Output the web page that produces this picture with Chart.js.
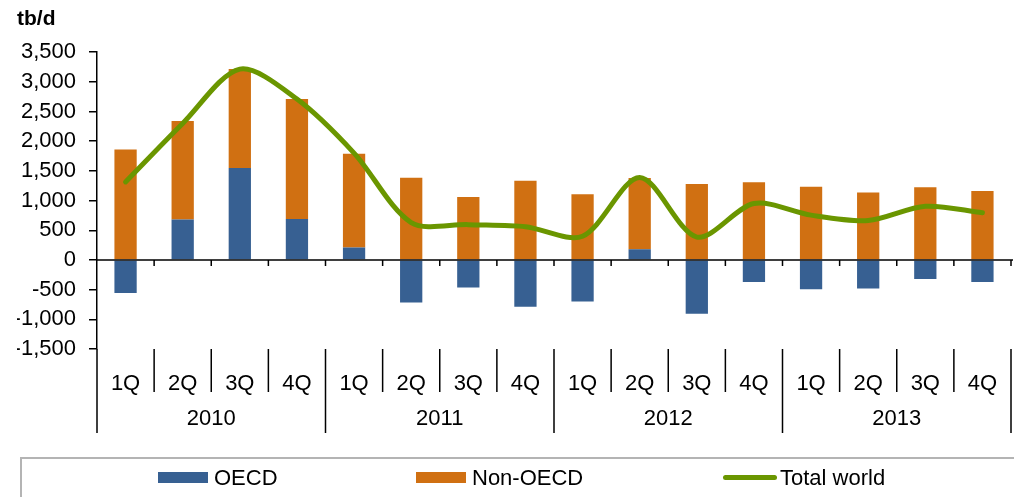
<!doctype html>
<html lang="en">
<head>
  <meta charset="utf-8">
  <title>tb/d OECD / Non-OECD</title>
  <script src="https://cdn.jsdelivr.net/npm/chart.js"></script>
  <style>
    body { margin: 0; background: #fff; font-family: "Liberation Sans", Arial, sans-serif; }
    #wrap { position: relative; width: 1014px; height: 497px; overflow: hidden; }
    #legend_box { position: absolute; left: 20px; top: 457px; width: 1100px; height: 80px; border: 2px solid #b4b4b4; box-sizing: border-box; }
    .lg { position: absolute; top: 466px; font-size: 22px; color: #000; line-height: 24px; white-space: nowrap; }
    .sw { display: inline-block; width: 50px; height: 11px; vertical-align: middle; margin-right: 6px; position: relative; top: -2px; }
    .sw.line { height: 5px; border-radius: 3px; width: 54px; margin-right: 3px; }
  </style>
</head>
<body>
  <div id="wrap">
    <canvas id="chart_canvas" width="1014" height="497"></canvas>
    <div id="legend_box"></div>
    <div id="legend_items"></div>
  </div>

  <script type="text/javascript">

    const quarters = ['1Q', '2Q', '3Q', '4Q', '1Q', '2Q', '3Q', '4Q', '1Q', '2Q', '3Q', '4Q', '1Q', '2Q', '3Q', '4Q'];
    const years = ['2010', '2011', '2012', '2013'];

    const oecd = [-555, 680, 1550, 690, 210, -715, -465, -790, -700, 180, -905, -370, -495, -480, -320, -370];
    const non_oecd = [1860, 1660, 1665, 2020, 1580, 1385, 1060, 1335, 1105, 1200, 1280, 1310, 1235, 1135, 1225, 1160];
    const total_world = [1315, 2300, 3215, 2710, 1800, 630, 595, 560, 400, 1390, 385, 950, 755, 665, 905, 795];

    const y_ticks = [-1500, -1000, -500, 0, 500, 1000, 1500, 2000, 2500, 3000, 3500];

    const col_oecd = '#376092';
    const col_non_oecd = '#d07012';
    const col_total = '#6a9600';
    const font_family = '"Liberation Sans", Arial, sans-serif';

    // zero line, quarter / year separators and year labels
    const axis_decor = {
      id: 'axis_decor',
      afterDraw(chart) {
        const ctx = chart.ctx;
        const xs = chart.scales.x;
        const ys = chart.scales.y;
        const area = chart.chartArea;
        const n = quarters.length;
        const cw = (area.right - area.left) / n;
        const y0 = ys.getPixelForValue(0);
        ctx.save();
        ctx.strokeStyle = '#000';
        ctx.lineWidth = 1.5;
        ctx.beginPath();
        ctx.moveTo(area.left, y0);
        ctx.lineTo(area.right + 2, y0);
        for (let i = 1; i <= n; i++) {
          const x = area.left + i * cw;
          ctx.moveTo(x, y0);
          ctx.lineTo(x, y0 + 6);
        }
        for (let i = 0; i <= n; i++) {
          const x = area.left + i * cw;
          ctx.moveTo(x, area.bottom);
          ctx.lineTo(x, i % 4 === 0 ? area.bottom + 84 : area.bottom + 43);
        }
        ctx.stroke();
        ctx.fillStyle = '#000';
        ctx.font = '22px ' + font_family;
        ctx.textAlign = 'center';
        ctx.textBaseline = 'middle';
        years.forEach((yr, k) => {
          const xc = (xs.getPixelForValue(k * 4 + 1) + xs.getPixelForValue(k * 4 + 2)) / 2;
          ctx.fillText(yr, xc, area.bottom + 70);
        });
        ctx.restore();
      }
    };

    const chart = new Chart(document.getElementById('chart_canvas'), {
      type: 'bar',
      data: {
        labels: quarters,
        datasets: [
          { type: 'line', label: 'Total world', data: total_world, borderColor: col_total, backgroundColor: col_total, borderWidth: 5, pointRadius: 0, tension: 0.3, borderCapStyle: 'round', order: 0 },
          { label: 'OECD', data: oecd, backgroundColor: col_oecd, stack: 's', order: 1 },
          { label: 'Non-OECD', data: non_oecd, backgroundColor: col_non_oecd, stack: 's', order: 1 }
        ]
      },
      options: {
        responsive: false,
        animation: false,
        devicePixelRatio: 1,
        layout: { padding: { left: 17, right: 3, top: 0, bottom: 40 } },
        datasets: { bar: { categoryPercentage: 1, barPercentage: 0.39 } },
        plugins: {
          legend: { display: false },
          tooltip: { enabled: false },
          title: { display: true, text: 'tb/d', align: 'start', color: '#000', font: { family: font_family, size: 21, weight: 'bold' }, padding: { top: 7, bottom: 20 } }
        },
        scales: {
          x: {
            stacked: true,
            grid: { display: false },
            border: { display: false },
            ticks: { color: '#000', font: { family: font_family, size: 22 }, padding: 14, maxRotation: 0, autoSkip: false },
            afterFit: (s) => { s.height = 108; }
          },
          y: {
            stacked: true,
            min: -1500, max: 3500,
            afterBuildTicks: (s) => { s.ticks = y_ticks.map(v => ({ value: v })); },
            grid: { drawOnChartArea: false, tickLength: 8, color: '#000', lineWidth: 1.5 },
            border: { display: true, color: '#000', width: 1.5 },
            ticks: { color: '#000', font: { family: font_family, size: 22 }, padding: 13, callback: (v) => Number(v).toLocaleString('en-US') },
            afterFit: (s) => { s.width = 80; }
          }
        }
      },
      plugins: [axis_decor]
    });

    // legend built from the datasets
    const legend_items = document.getElementById('legend_items');
    const legend_x = { 'OECD': 158, 'Non-OECD': 416, 'Total world': 723 };
    ['OECD', 'Non-OECD', 'Total world'].forEach(name => {
      const ds = chart.data.datasets.find(d => d.label === name);
      const el = document.createElement('div');
      el.className = 'lg';
      el.style.left = legend_x[name] + 'px';
      const sw = document.createElement('span');
      sw.className = ds.type === 'line' ? 'sw line' : 'sw';
      sw.style.background = ds.type === 'line' ? ds.borderColor : ds.backgroundColor;
      el.appendChild(sw);
      el.appendChild(document.createTextNode(name));
      legend_items.appendChild(el);
    });

  </script>
</body>
</html>
